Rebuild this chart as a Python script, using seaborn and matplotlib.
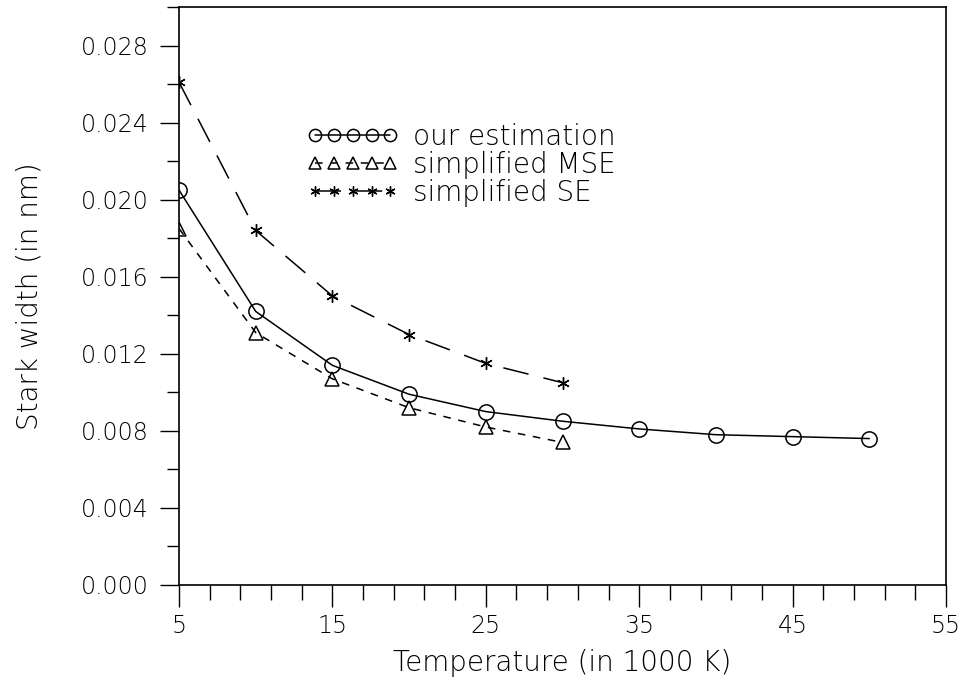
import numpy as np
import pandas as pd
import matplotlib
matplotlib.use("Agg")
import matplotlib.pyplot as plt
from matplotlib.ticker import FixedLocator, MultipleLocator, FormatStrFormatter
import seaborn as sns

# %% — Data
temp_est = [5, 10, 15, 20, 25, 30, 35, 40, 45, 50]
width_est = [0.0205, 0.0142, 0.0114, 0.0099, 0.0090, 0.0085,
             0.0081, 0.0078, 0.0077, 0.0076]

temp_mse = [5, 10, 15, 20, 25, 30]
width_mse = [0.0185, 0.0131, 0.0107, 0.0092, 0.0082, 0.0074]

temp_se = [5, 10, 15, 20, 25, 30]
width_se = [0.0261, 0.0184, 0.0150, 0.0130, 0.0115, 0.0105]

x_major = [5, 15, 25, 35, 45, 55]

# %% — Style
sns.set_style("ticks")
plt.rcParams["font.family"] = ["DejaVu Sans"]
plt.rcParams["font.weight"] = "light"
plt.rcParams["axes.labelweight"] = "light"
for key in ["text.color", "axes.labelcolor", "xtick.color", "ytick.color"]:
    plt.rcParams[key] = "black"

fig = plt.figure(figsize=(9.66, 6.87), dpi=100)
ax = fig.add_axes([0.1853, 0.1485, 0.7940, 0.8413])

sns.lineplot(x=temp_est, y=width_est, ax=ax, color="black", lw=1.1,
             marker="o", markersize=11, markerfacecolor="none",
             markeredgecolor="black", markeredgewidth=1.1,
             label="our estimation")
sns.lineplot(x=temp_mse, y=width_mse, ax=ax, color="black", lw=1.1,
             linestyle=(0, (5, 5)), marker="^", markersize=10,
             markerfacecolor="none", markeredgecolor="black",
             markeredgewidth=1.1, label="simplified MSE")
sns.lineplot(x=temp_se, y=width_se, ax=ax, color="black", lw=1.1,
             linestyle=(0, (17, 10)), marker=(6, 2, 0), markersize=9,
             markeredgecolor="black", markeredgewidth=1.0,
             label="simplified SE")

# %% — Axes
ax.set_xlim(5, 55)
ax.set_ylim(0, 0.030)
ax.xaxis.set_major_locator(FixedLocator(x_major))
ax.xaxis.set_minor_locator(FixedLocator(np.arange(5, 56, 2)))
ax.yaxis.set_major_locator(MultipleLocator(0.004))
ax.yaxis.set_minor_locator(MultipleLocator(0.002))
ax.yaxis.set_major_formatter(FormatStrFormatter("%.3f"))
ax.tick_params(axis="y", which="major", length=14, width=1, pad=8,
               labelsize=17, direction="out")
ax.tick_params(axis="y", which="minor", length=9, width=1, direction="out")
ax.tick_params(axis="x", which="major", length=16, width=1, pad=5,
               labelsize=17, direction="out")
ax.tick_params(axis="x", which="minor", length=11, width=1, direction="out")
for sp in ax.spines.values():
    sp.set_visible(True)
    sp.set_linewidth(1.2)
    sp.set_color("black")

ax.set_xlabel("Temperature (in 1000 K)", fontsize=20, labelpad=8,
              fontweight="light")
ax.set_ylabel("Stark width (in nm)", fontsize=20, labelpad=27,
              fontweight="light")

ax.legend(loc="upper left", bbox_to_anchor=(0.167, 0.80), frameon=False,
          numpoints=5, handlelength=3.3, handletextpad=0.5, borderpad=0,
          borderaxespad=0, labelspacing=0.0, fontsize=20, markerscale=0.8)

plt.savefig("out.png", dpi=100)
